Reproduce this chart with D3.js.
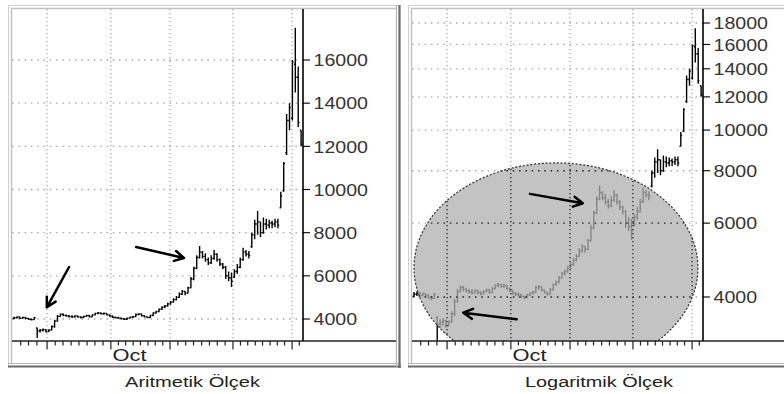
<!DOCTYPE html>
<html><head><meta charset="utf-8">
<script src="https://cdn.jsdelivr.net/npm/d3@7"></script>
<style>body{margin:0;background:#fff}svg{display:block}</style>
</head><body>
<svg id="c" width="784" height="394"></svg>
<script>
// ---- data ----
const opens  = [4020,4060,4090,4030,4070,4030,3990,3970,3580,3450,3480,3510,3420,3490,3650,3900,4120,4220,4170,4140,
                4110,4090,4140,4100,4070,4120,4160,4100,4190,4260,4280,4240,4260,4190,4140,4080,4060,4040,4010,3990,
                4040,4080,4110,4210,4230,4150,4100,4070,4160,4280,4340,4450,4550,4600,4700,4780,4900,5000,5150,5280,
                5200,5450,5850,6350,6850,7100,6900,6750,6600,6800,7000,6750,6550,6400,6000,5900,5950,6200,6400,6750,
                7100,7000,7350,7900,8400,8500,8000,8400,8350,8450,8400,8500,9150,9950,11700,13200,13300,15800,15200,12750];
const highs  = [4110,4120,4110,4100,4090,4060,4020,4090,3600,3540,3560,3530,3520,3700,3960,4180,4260,4250,4210,4180,
                4170,4170,4160,4130,4150,4190,4180,4220,4290,4320,4300,4300,4270,4210,4160,4110,4100,4070,4030,4070,
                4110,4140,4250,4270,4240,4170,4120,4200,4310,4380,4490,4590,4650,4750,4830,4960,5060,5230,5340,5300,
                5500,5950,6420,6950,7380,7150,7050,6850,6950,7200,7050,6800,6600,6450,6200,6150,6300,6550,6850,7300,
                7200,7150,8000,8600,9000,8500,8700,8650,8600,8550,8650,8650,9900,11270,13500,14000,16000,17500,15700,12750];
const lows   = [3990,4020,4000,4010,3990,3950,3930,3960,3120,3380,3420,3380,3400,3470,3600,3880,4100,4130,4100,4070,
                4060,4070,4060,4040,4050,4100,4070,4090,4170,4220,4210,4200,4160,4110,4050,4020,4010,3980,3950,3970,
                4020,4050,4090,4170,4120,4070,4030,4050,4140,4250,4310,4420,4500,4570,4660,4750,4860,4980,5110,5100,
                5180,5420,5800,6300,6800,6800,6650,6500,6550,6750,6650,6450,6300,5850,5750,5480,5900,6100,6350,6700,
                6900,6800,7300,7700,7900,7800,7950,8150,8200,8200,8250,8200,9150,9900,11600,12750,13200,14500,12900,12000];
const closes = [4060,4090,4030,4070,4030,3990,3970,4060,3450,3480,3510,3420,3490,3650,3900,4120,4220,4170,4140,4110,
                4090,4140,4100,4070,4120,4160,4100,4190,4260,4280,4240,4260,4190,4140,4080,4060,4040,4010,3990,4040,
                4080,4110,4210,4230,4150,4100,4070,4160,4280,4340,4450,4550,4600,4700,4780,4900,5000,5150,5280,5200,
                5450,5850,6350,6850,7100,6900,6750,6600,6800,7000,6750,6550,6400,6000,5900,5750,6200,6400,6750,7100,
                7000,6950,7900,8400,8500,8000,8400,8350,8450,8400,8500,8350,9700,11200,13200,13800,15900,15200,13100,12100];

const linearTicks = [4000,6000,8000,10000,12000,14000,16000];
const logTicks    = [4000,6000,8000,10000,12000,14000,16000,18000];
const majorTicks  = [11.4,33.4,53.8,75.5,95.9];
const minorTicks  = [2.3,5.0,7.9, 14.2,16.9,19.7,22.4,25.2,27.9,30.7, 36.0,38.5,41.1,43.6,46.2,48.7,51.3,
                     56.5,59.2,61.9,64.7,67.4,70.1,72.8, 78.1,80.6,83.2,85.7,88.3,90.8,93.3, 98.4];
const monthLabels = [{at:33.4, text:"Oct"}];
const titles = ["Aritmetik Ölçek","Logaritmik Ölçek"];
// annotations in data coordinates [barIndex, value]
const leftArrows  = [{from:[19,6410], to:[11.3,4542]}, {from:[42.1,7336], to:[58.6,6827]}];
const rightArrows = [{from:[40,7045], to:[58.2,6690]}, {from:[35.4,3539], to:[17,3670]}];
const highlight = {i0:0, i1:97.9, vTop:8350, vBottom:2640};

// ---- layout ----
const FONT = "Liberation Sans, Arial, sans-serif";
const svg = d3.select("#c");
const TOP = 9, BASE = 341;
const bars = d3.range(closes.length).map(i => ({i, o:opens[i], h:highs[i], l:lows[i], c:closes[i]}));

function drawPanel(p) {
  const g = svg.append("g");
  const ox = p.ox;
  const plotL = ox + 12, axisX = ox + 303;
  const x = d3.scaleLinear().domain([0, 99]).range([ox + 14, ox + 301.1]);
  const y = p.y;
  const fx0 = ox + 8, fx1 = ox + 401, fy0 = 5, fy1 = 368;

  // frame
  g.append("rect").attr("x", fx0).attr("y", fy0).attr("width", fx1 - fx0).attr("height", fy1 - fy0).attr("fill", "#fff");
  const ln = (x1,y1,x2,y2,c,w) => g.append("line").attr("x1",x1).attr("y1",y1).attr("x2",x2).attr("y2",y2).attr("stroke",c).attr("stroke-width",w);
  ln(fx0+0.5, fy0+0.5, fx1, fy0+0.5, "#cfcfcf", 1);
  ln(fx0+0.5, fy0+0.5, fx0+0.5, fy1, "#cfcfcf", 1);
  ln(fx0+3.5, fy0+3.5, fx1-4, fy0+3.5, "#c2c2c2", 1.5);
  ln(fx0+3.5, fy0+3.5, fx0+3.5, fy1-4, "#c2c2c2", 1.5);
  ln(fx0, fy1-4.5, fx1, fy1-4.5, "#b4b4b4", 1.2);
  ln(fx0, fy1-1.5, fx1, fy1-1.5, "#6a6a6a", 2.2);
  ln(fx1-4.5, fy0, fx1-4.5, fy1, "#b4b4b4", 1.2);
  ln(fx1-1.5, fy0, fx1-1.5, fy1, "#6a6a6a", 2.2);

  const clipId = "clip" + p.id;
  svg.append("clipPath").attr("id", clipId).append("rect")
     .attr("x", plotL).attr("y", TOP).attr("width", axisX - plotL).attr("height", BASE - TOP);

  // grid
  const grid = (sel, color) => {
    sel.selectAll(null).data(p.ticks).join("line")
      .attr("x1", plotL).attr("x2", axisX).attr("y1", d => y(d)).attr("y2", d => y(d))
      .attr("stroke", color).attr("stroke-width", 1.3).attr("stroke-dasharray", "1.5,4.8");
    sel.selectAll(null).data(majorTicks).join("line")
      .attr("x1", d => x(d)).attr("x2", d => x(d)).attr("y1", TOP).attr("y2", BASE)
      .attr("stroke", color).attr("stroke-width", 1.3).attr("stroke-dasharray", "1.3,2.7");
  };
  grid(g.append("g"), "#a8a8a8");

  // OHLC bars
  const bg = g.append("g").attr("clip-path", `url(#${clipId})`).attr("stroke", "#000").attr("stroke-width", 1.4);
  bg.selectAll(null).data(bars).join("path")
    .attr("d", d => {
      const cx = x(d.i);
      return `M${cx},${y(d.h)}V${y(d.l)}M${cx-1.3},${y(d.o)}H${cx}M${cx},${y(d.c)}H${cx+1.3}`;
    }).attr("fill", "none");

  // highlight ellipse
  if (p.ellipse) {
    const e = p.ellipse;
    const cx = (x(e.i0) + x(e.i1)) / 2, rx = (x(e.i1) - x(e.i0)) / 2;
    const cy = (y(e.vTop) + y(e.vBottom)) / 2, ry = (y(e.vBottom) - y(e.vTop)) / 2;
    const eg = g.append("g").attr("clip-path", `url(#${clipId})`);
    eg.append("ellipse").attr("cx", cx).attr("cy", cy).attr("rx", rx).attr("ry", ry)
      .attr("fill", "rgb(176,176,176)").attr("fill-opacity", 0.76);
    const eid = "ell" + p.id;
    svg.append("clipPath").attr("id", eid).append("ellipse").attr("cx", cx).attr("cy", cy).attr("rx", rx).attr("ry", ry);
    grid(eg.append("g").attr("clip-path", `url(#${eid})`), "#2a2a2a");
    eg.append("ellipse").attr("cx", cx).attr("cy", cy).attr("rx", rx).attr("ry", ry)
      .attr("fill", "none").attr("stroke", "#333").attr("stroke-width", 1.2).attr("stroke-dasharray", "2.2,1.6");
  }

  // axes
  ln(axisX, TOP, axisX, BASE, "#000", 1.6);
  ln(plotL, BASE, fx1 - 5, BASE, "#222", 1.6);
  g.selectAll(null).data(p.ticks).join("line")
    .attr("x1", axisX).attr("x2", axisX + 7).attr("y1", d => y(d)).attr("y2", d => y(d))
    .attr("stroke", "#000").attr("stroke-width", 1.1);
  g.selectAll(null).data(p.ticks).join("text")
    .attr("x", axisX + 10.5).attr("y", d => y(d)).attr("dy", "0.36em")
    .attr("font-family", FONT).attr("font-size", 17.2).attr("fill", "#333")
    .attr("textLength", d => String(d).length * 10.9).attr("lengthAdjust", "spacingAndGlyphs")
    .text(d => d);
  g.selectAll(null).data(minorTicks).join("line")
    .attr("x1", d => x(d)).attr("x2", d => x(d)).attr("y1", BASE).attr("y2", BASE + 4.5)
    .attr("stroke", "#222").attr("stroke-width", 1.2);
  g.selectAll(null).data(majorTicks).join("line")
    .attr("x1", d => x(d)).attr("x2", d => x(d)).attr("y1", BASE).attr("y2", BASE + 8.5)
    .attr("stroke", "#222").attr("stroke-width", 1.2);
  g.selectAll(null).data(monthLabels).join("text")
    .attr("x", d => x(d.at) + 1.7).attr("y", 361)
    .attr("font-family", FONT).attr("font-size", 15.8).attr("fill", "#222")
    .attr("textLength", 34).attr("lengthAdjust", "spacingAndGlyphs")
    .text(d => d.text);

  // arrows
  const ag = g.append("g").attr("stroke", "#000").attr("stroke-width", 2.5).attr("fill", "none")
    .attr("stroke-linecap", "round").attr("stroke-linejoin", "round");
  p.arrows.forEach(a => {
    const x1 = x(a.from[0]), y1 = y(a.from[1]), x2 = x(a.to[0]), y2 = y(a.to[1]);
    const ang = Math.atan2(y1 - y2, x1 - x2), L = 10.5, h = 0.5;
    ag.append("path").attr("d",
      `M${x1},${y1}L${x2},${y2}M${x2 + L*Math.cos(ang+h)},${y2 + L*Math.sin(ang+h)}L${x2},${y2}L${x2 + L*Math.cos(ang-h)},${y2 + L*Math.sin(ang-h)}`);
  });

  // title
  g.append("text").attr("x", p.titleX).attr("y", 387)
    .attr("font-family", FONT).attr("font-size", 14.9).attr("fill", "#222")
    .attr("textLength", p.titleLen).attr("lengthAdjust", "spacingAndGlyphs")
    .text(p.title);
}

drawPanel({id:"L", ox:0, y:d3.scaleLinear().domain([4000,16000]).range([319,60]),
  ticks:linearTicks, arrows:leftArrows, title:titles[0], titleX:125, titleLen:135});
drawPanel({id:"R", ox:400, y:d3.scaleLog().domain([4000,18000]).range([297,23]),
  ticks:logTicks, arrows:rightArrows, title:titles[1], titleX:525, titleLen:148, ellipse:highlight});
</script>
</body></html>
